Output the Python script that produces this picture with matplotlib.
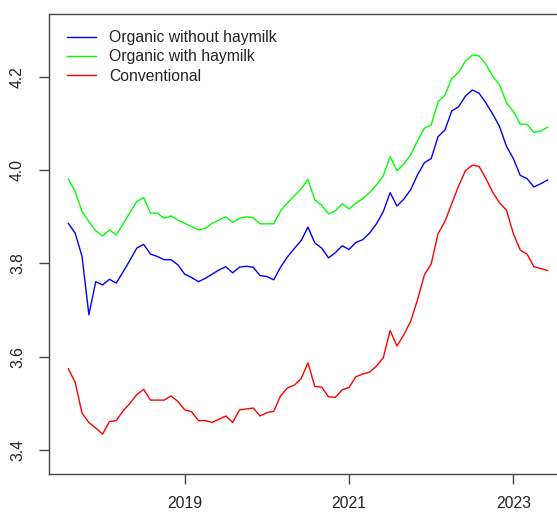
import matplotlib
matplotlib.use("Agg")
import matplotlib.pyplot as plt
import numpy as np

plt.rcParams['font.family'] = ['Liberation Sans', 'DejaVu Sans']

# monthly series, Aug 2017 - Jun 2023
start_year = 2017 + 7 / 12
organic_no_hay = [
    3.886, 3.865, 3.815, 3.690, 3.761, 3.754, 3.766, 3.758, 3.782, 3.807,
    3.833, 3.841, 3.820, 3.815, 3.808, 3.808, 3.797, 3.777, 3.770, 3.761,
    3.768, 3.777, 3.786, 3.793, 3.780, 3.792, 3.794, 3.792, 3.774, 3.772,
    3.765, 3.792, 3.814, 3.832, 3.849, 3.878, 3.844, 3.833, 3.812, 3.823,
    3.838, 3.830, 3.845, 3.851, 3.865, 3.885, 3.911, 3.952, 3.923, 3.938,
    3.958, 3.990, 4.016, 4.025, 4.072, 4.086, 4.127, 4.136, 4.159, 4.172,
    4.165, 4.144, 4.120, 4.093, 4.051, 4.025, 3.989, 3.982, 3.964, 3.971,
    3.979,
]
organic_hay = [
    3.981, 3.954, 3.911, 3.890, 3.870, 3.859, 3.872, 3.861, 3.885, 3.909,
    3.933, 3.941, 3.908, 3.908, 3.897, 3.902, 3.893, 3.886, 3.879, 3.872,
    3.875, 3.886, 3.893, 3.900, 3.888, 3.897, 3.900, 3.898, 3.885, 3.885,
    3.885, 3.913, 3.930, 3.945, 3.960, 3.980, 3.936, 3.925, 3.906, 3.913,
    3.928, 3.917, 3.929, 3.939, 3.952, 3.968, 3.988, 4.029, 3.999, 4.013,
    4.033, 4.063, 4.090, 4.097, 4.147, 4.161, 4.197, 4.209, 4.234, 4.247,
    4.245, 4.227, 4.201, 4.183, 4.144, 4.126, 4.099, 4.098, 4.081, 4.084,
    4.092,
]
conventional = [
    3.574, 3.545, 3.479, 3.459, 3.447, 3.434, 3.461, 3.463, 3.484, 3.500,
    3.519, 3.530, 3.507, 3.507, 3.507, 3.516, 3.504, 3.486, 3.482, 3.463,
    3.463, 3.459, 3.466, 3.473, 3.459, 3.486, 3.488, 3.490, 3.473, 3.480,
    3.483, 3.516, 3.533, 3.539, 3.553, 3.587, 3.536, 3.535, 3.514, 3.513,
    3.529, 3.534, 3.557, 3.563, 3.567, 3.580, 3.598, 3.656, 3.623, 3.647,
    3.676, 3.722, 3.775, 3.799, 3.864, 3.890, 3.928, 3.966, 3.999, 4.011,
    4.008, 3.982, 3.952, 3.930, 3.914, 3.864, 3.829, 3.820, 3.793, 3.789,
    3.785,
]
labels = ["Organic without haymilk", "Organic with haymilk", "Conventional"]
colors = ["#0000FF", "#00FF00", "#FF0000"]
x_ticks = [2019, 2021, 2023]
y_ticks = [3.4, 3.6, 3.8, 4.0, 4.2]

t = start_year + np.arange(len(conventional)) / 12

fig = plt.figure(figsize=(5.57, 5.12), dpi=100)
ax = fig.add_axes([0.0874, 0.0742, 0.931, 0.8985])

for series, lab, col in zip([organic_no_hay, organic_hay, conventional], labels, colors):
    ax.plot(t, series, color=col, lw=1.0, label=lab)

ax.set_xlim(2017.344, 2023.656)
ax.set_ylim(3.3485, 4.335)
ax.set_xticks(x_ticks)
ax.set_xticklabels([str(v) for v in x_ticks])
ax.set_yticks(y_ticks)
ax.set_yticklabels([f"{v:.1f}" for v in y_ticks], rotation=90, va='center')

for s in ax.spines.values():
    s.set_color('#444444')
    s.set_linewidth(1.0)
ax.tick_params(axis='both', length=7, width=1.0, color='#444444',
               labelsize=11.3, labelcolor='#222222')
ax.tick_params(axis='x', pad=9)
ax.tick_params(axis='y', pad=10)

leg = ax.legend(loc='upper left', bbox_to_anchor=(67 / 557, 1 - 30 / 512),
                bbox_transform=fig.transFigure, frameon=False, fontsize=11.3,
                handlelength=1.85, handletextpad=0.85, labelspacing=0.28,
                borderpad=0, borderaxespad=0)
for txt in leg.get_texts():
    txt.set_color('#222222')

fig.savefig("out.png", dpi=100)
